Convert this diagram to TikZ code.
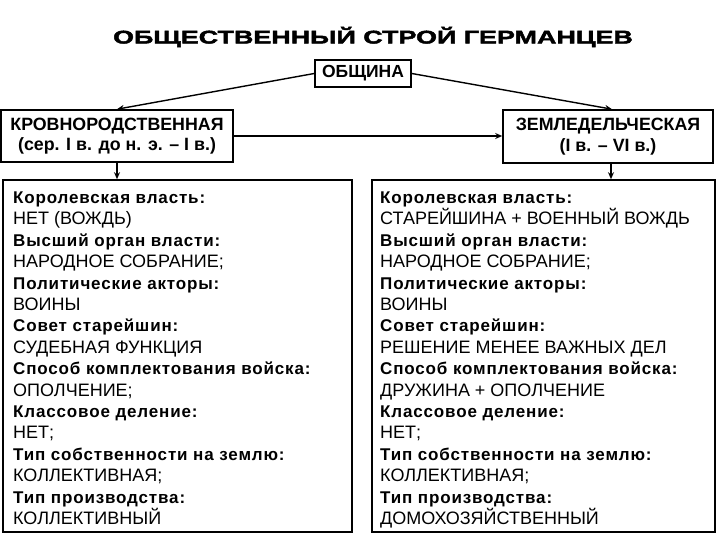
\documentclass[tikz,border=0pt]{standalone}
\usepackage{fontspec}
\setmainfont{Liberation Sans}
\newfontfamily\titlefont[FakeStretch=1.47,FakeBold=2.5]{Liberation Sans}
\newfontfamily\labfont[LetterSpace=5]{Liberation Sans}
\usetikzlibrary{arrows.meta}
\begin{document}
\begin{tikzpicture}[x=1pt,y=-1pt,
 box/.style={draw,line width=1.6pt,inner sep=0pt},
 hdr/.style={box,font=\fontsize{17.8}{20.5}\selectfont\bfseries,align=center},
 arr/.style={line width=1.4pt,-{Stealth[length=7pt,width=6pt]}},
 lab/.style={anchor=base west,inner sep=0pt,font=\labfont\fontsize{17}{20}\selectfont\bfseries},
 val/.style={anchor=base west,inner sep=0pt,font=\fontsize{18}{21}\selectfont}]
\useasboundingbox (0,0) rectangle (720,540);
\node[font=\titlefont\fontsize{18.3}{20}\selectfont\bfseries] (title) at (373,37) {ОБЩЕСТВЕННЫЙ СТРОЙ ГЕРМАНЦЕВ};
\node[box,font=\fontsize{17.5}{20}\selectfont\bfseries,minimum width=96pt,minimum height=27pt] (obs) at (363,73.5) {ОБЩИНА};
\node[hdr,minimum width=232pt,minimum height=52pt] (krov) at (117,136) {КРОВНОРОДСТВЕННАЯ\\(сер. I в. до н. э. – I в.)};
\node[hdr,minimum width=210pt,minimum height=53pt] (zem) at (608,136.5) {ЗЕМЛЕДЕЛЬЧЕСКАЯ\\(I в. – VI в.)};
\node[box,minimum width=349pt,minimum height=352pt] (lb) at (177.5,356) {};
\node[box,minimum width=343pt,minimum height=352pt] (rb) at (543.5,356) {};
\draw[arr] (obs.west) -- (krov.north);
\draw[arr] (obs.east) -- ([xshift=4pt]zem.north);
\draw[arr] (krov.east) -- (krov.east -| zem.west);
\draw[arr] (krov.south) -- (krov.south |- lb.north);
\draw[arr] ([xshift=3pt]zem.south) -- ([xshift=3pt]zem.south |- rb.north);
\foreach \t [count=\i from 0] in {Королевская власть:,Высший орган власти:,Политические акторы:,Совет старейшин:,Способ комплектования войска:,Классовое деление:,Тип собственности на землю:,Тип производства:}{
  \node[lab] (ll\i) at (13,{203.5+42.8*\i}) {\t};
  \node[lab] (rl\i) at (380,{203.5+42.8*\i}) {\t};
}
\foreach \t [count=\i from 0] in {НЕТ (ВОЖДЬ),НАРОДНОЕ СОБРАНИЕ;,ВОИНЫ,СУДЕБНАЯ ФУНКЦИЯ,ОПОЛЧЕНИЕ;,НЕТ;,КОЛЛЕКТИВНАЯ;,КОЛЛЕКТИВНЫЙ}{
  \node[val] (lv\i) at (13,{224.9+42.8*\i}) {\t};
}
\foreach \t [count=\i from 0] in {СТАРЕЙШИНА + ВОЕННЫЙ ВОЖДЬ,НАРОДНОЕ СОБРАНИЕ;,ВОИНЫ,РЕШЕНИЕ МЕНЕЕ ВАЖНЫХ ДЕЛ,ДРУЖИНА + ОПОЛЧЕНИЕ,НЕТ;,КОЛЛЕКТИВНАЯ;,ДОМОХОЗЯЙСТВЕННЫЙ}{
  \node[val] (rv\i) at (380,{224.9+42.8*\i}) {\t};
}
\end{tikzpicture}
\end{document}
